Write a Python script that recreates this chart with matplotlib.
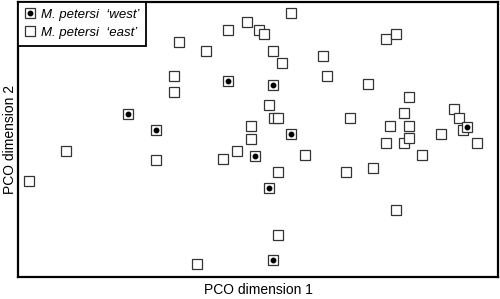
import matplotlib
matplotlib.use('Agg')
import matplotlib.pyplot as plt

plt.rcParams['font.family'] = ['Liberation Sans', 'DejaVu Sans']

# PCO scores (arbitrary units, no ticks on the axes)
west_x = [110, 138, 210, 255, 273, 237, 251, 255, 449]
west_y = [163, 147, 196, 192, 143, 121, 89, 17, 150]

east_x = [11, 48, 138, 156, 156, 161, 188, 210, 229, 205, 219, 233, 233, 179,
          241, 246, 255, 264, 273, 251, 256, 260, 305, 309, 350, 332, 287, 260,
          260, 328, 355, 368, 378, 391, 386, 372, 391, 368, 386, 391, 378, 404,
          423, 436, 441, 445, 459]
east_y = [96, 126, 117, 201, 185, 235, 226, 247, 255, 118, 126, 151, 138, 13,
          247, 243, 226, 214, 264, 172, 159, 159, 221, 201, 193, 159, 122, 105,
          42, 105, 109, 238, 243, 180, 164, 151, 151, 134, 134, 139, 67, 122,
          143, 168, 159, 147, 134]

labels = ['M. petersi  \u2018west\u2019', 'M. petersi  \u2018east\u2019']

fig = plt.figure(figsize=(5, 2.99), dpi=100)
ax = fig.add_axes([0.036, 0.0736, 0.96, 0.92])

sq = dict(marker='s', markersize=7.3, markerfacecolor='white',
          markeredgecolor='#333333', markeredgewidth=0.9, linestyle='none')

east, = ax.plot(east_x, east_y, **sq)
west_sq, = ax.plot(west_x, west_y, **sq)
west_dot, = ax.plot(west_x, west_y, 'o', color='black', markersize=3.2,
                    linestyle='none')

ax.set_xlim(0, 480)
ax.set_ylim(0, 275)
ax.set_xticks([])
ax.set_yticks([])
for s in ax.spines.values():
    s.set_linewidth(1.6)

ax.set_xlabel('PCO dimension 1', fontsize=10, labelpad=4)
ax.set_ylabel('PCO dimension 2', fontsize=10, labelpad=1)

leg = ax.legend([(west_sq, west_dot), east], labels,
                loc='upper left', bbox_to_anchor=(0, 1), borderaxespad=0,
                prop={'style': 'italic', 'size': 9.5}, handlelength=0.8,
                handletextpad=0.45, borderpad=0.5, labelspacing=0.45,
                fancybox=False, framealpha=1)
leg.get_frame().set_edgecolor('black')
leg.get_frame().set_linewidth(1.3)

fig.savefig('out.png', dpi=100)
